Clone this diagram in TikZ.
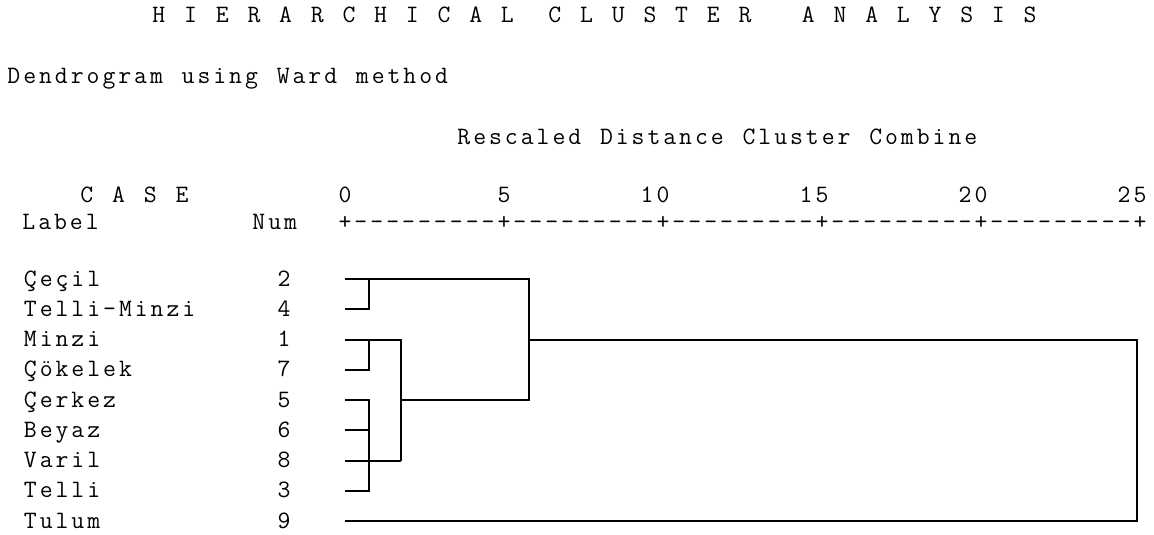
\documentclass[tikz,border=0pt]{standalone}
\usepackage{fontspec}
\makeatletter
\newcommand\gridtxt[1]{\@tfor\gt@c:=#1\do{\makebox[15.84pt][c]{\gt@c}}}
\makeatother
\begin{document}
\begin{tikzpicture}[x=1pt,y=-1pt,
  txt/.style={font=\ttfamily\fontsize{25}{30}\selectfont, inner sep=0pt, outer sep=0pt, text=black},
  lbl/.style={txt, anchor=base west},
  cnum/.style={txt, anchor=base},
  link/.style={line width=2pt, draw=black, line join=miter}]
\useasboundingbox[fill=white] (0,0) rectangle (1154,535);

% headings
\node[lbl] (title) at (151,23) {\gridtxt{H~I~E~R~A~R~C~H~I~C~A~L~~C~L~U~S~T~E~R~~~A~N~A~L~Y~S~I~S}};
\node[lbl] (sub) at (6,84) {\gridtxt{Dendrogram~using~Ward~method}};
\node[lbl] (resc) at (456,144) {\gridtxt{Rescaled~Distance~Cluster~Combine}};
\node[lbl] (case) at (79,202) {\gridtxt{C~A~S~E}};
\node[lbl] (label) at (21,229) {\gridtxt{Label}};
\node[lbl] (numh) at (251,229) {\gridtxt{Num}};

% axis numbers
\node[cnum] (t0) at (345,202) {0};
\node[cnum] (t5) at (504,202) {5};
\node[lbl] (t10) at (663-23.76,202) {\gridtxt{10}};
\node[lbl] (t15) at (822-23.76,202) {\gridtxt{15}};
\node[lbl] (t20) at (981-23.76,202) {\gridtxt{20}};
\node[lbl] (t25) at (1140-23.76,202) {\gridtxt{25}};

% axis ruler
\foreach \k in {0,...,5} \node[cnum] (p\k) at ({345+159*\k},229) {+};
\foreach \k in {0,...,4} \foreach \i in {1,...,9}
  \node[cnum] (d\k\i) at ({345+159*\k+15.9*\i},229) {-};

% case labels and numbers
\foreach \n/\lab/\num [count=\r from 0] in {c1/Çeçil/2, c2/Telli-Minzi/4, c3/Minzi/1, c4/Çökelek/7, c5/Çerkez/5, c6/Beyaz/6, c7/Varil/8, c8/Telli/3, c9/Tulum/9} {
  \node[lbl] (\n) at (22.5,{286+30.25*\r}) {\expandafter\gridtxt\expandafter{\lab}};
  \node[cnum] (\n n) at (284,{286+30.25*\r}) {\num};
}

% leaf coordinates
\foreach \r in {1,...,9} \coordinate (l\r) at (345,{279+30.25*(\r-1)});
\coordinate (a1) at (369,279);
\coordinate (a3) at (369,339.5);
\coordinate (a5) at (369,400);
\coordinate (a6) at (369,430.25);
\coordinate (a8) at (369,490.75);
\coordinate (b3) at (401,339.5);
\coordinate (b5) at (401,400);
\coordinate (b7) at (401,460.5);
\coordinate (c1) at (529,279);
\coordinate (c3) at (529,339.5);
\coordinate (c5) at (529,400);
\coordinate (e3) at (1137,339.5);
\coordinate (e9) at (1137,521);

% dendrogram
\draw[link] (l2) -| (a1);
\draw[link] (l4) -| (a3);
\draw[link] (l5) -- (a5) -- (a8) -- (l8);
\draw[link] (l6) -- (a6);
\draw[link] (l7) -- (b7);
\draw[link] (l3) -- (b3) -- (b7);
\draw[link] (l1) -- (c1) -- (c5) -- (b5);
\draw[link] (c3) -- (e3) -- (e9) -- (l9);
\end{tikzpicture}
\end{document}
